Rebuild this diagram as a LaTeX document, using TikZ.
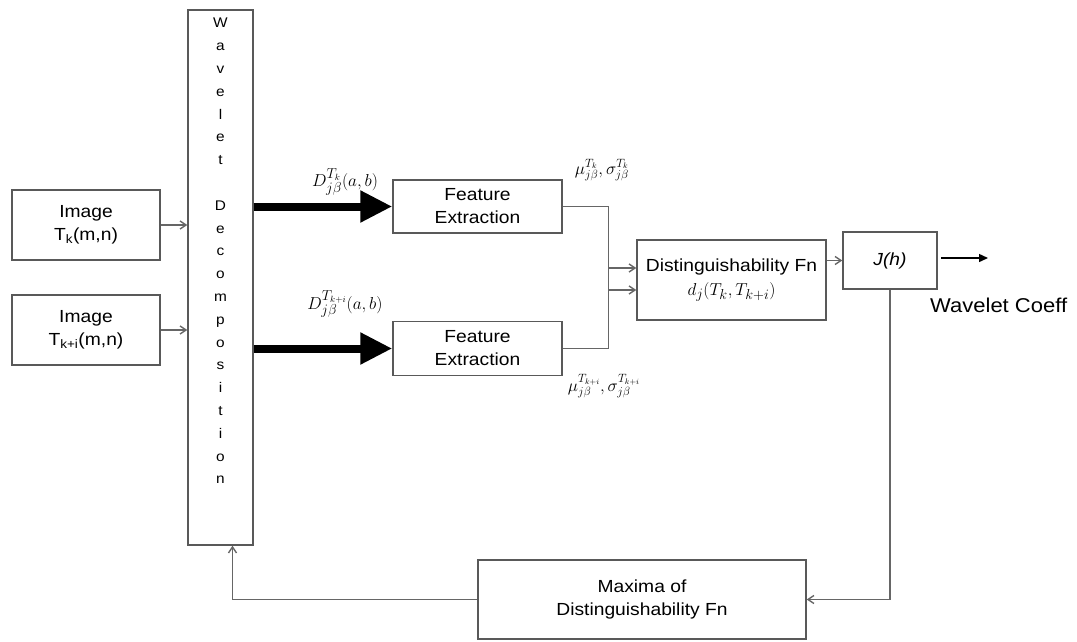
\documentclass[tikz,border=0pt]{standalone}
\usepackage{fontspec}
\setmainfont{Liberation Sans}[FakeStretch=1.1]
\usetikzlibrary{arrows.meta,positioning}
\begin{document}
\begin{tikzpicture}[x=1pt,y=-1pt,
  box/.style={draw=black!65,line width=1.4pt,fill=white,inner sep=0pt,font=\fontsize{17.5}{23}\selectfont,align=center},
  conn/.style={draw=black!60,line width=1.4pt,-{Straight Barb[length=6pt,width=8pt]}},
  thick arrow/.style={draw=black,line width=8pt,-{Triangle[length=32pt,width=30pt]}},
  lbl/.style={font=\fontsize{19}{21}\selectfont}]
\useasboundingbox (0,0) rectangle (1077,641);
% boxes
\node[box,minimum width=148pt,minimum height=70pt] (img1) at (86,225) {Image\\T\textsubscript{k}(m,n)};
\node[box,minimum width=148pt,minimum height=70pt] (img2) at (86,330) {Image\\T\textsubscript{k+i}(m,n)};
\node[box,minimum width=65pt,minimum height=535pt] (wd) at (220.5,277.5) {};
\node[font=\fontsize{14}{22.8}\selectfont,align=center,anchor=north,inner sep=0pt] (wdt) at (220.5,18)
  {W\\a\\v\\e\\l\\e\\t\\[22.8pt]D\\e\\c\\o\\m\\p\\o\\s\\i\\t\\i\\o\\n};
\node[box,minimum width=169pt,minimum height=53pt] (fe1) at (477.5,206.5) {Feature\\Extraction};
\node[box,minimum width=169pt,minimum height=54pt] (fe2) at (477.5,348.5) {Feature\\Extraction};
\node[box,minimum width=189pt,minimum height=80pt] (dist) at (731.5,280)
  {Distinguishability Fn\\[1pt]{\fontsize{19}{21}\selectfont$d_{j}(T_{k},T_{k+i})$}};
\node[box,minimum width=94pt,minimum height=57pt] (jh) at (890,260.5) {\textit{J(h)}};
\node[box,minimum width=328pt,minimum height=79pt] (max) at (642,599.5) {Maxima of\\Distinguishability Fn};
% labels
\node[lbl] (ld1) at (345,182) {$D_{j\beta}^{T_k}(a,b)$};
\node[lbl] (ld2) at (345,304) {$D_{j\beta}^{T_{k+i}}(a,b)$};
\node[lbl,font=\fontsize{17}{19}\selectfont] (lm1) at (602,170) {$\mu_{j\beta}^{T_k},\sigma_{j\beta}^{T_k}$};
\node[lbl,font=\fontsize{17}{19}\selectfont] (lm2) at (604,386) {$\mu_{j\beta}^{T_{k+i}},\sigma_{j\beta}^{T_{k+i}}$};
\node[font=\fontsize{20}{22}\selectfont,anchor=west,inner sep=0pt] (wc) at (930,305) {Wavelet Coeff};
% connectors
\draw[conn] (img1.east) -- (img1.east -| wd.west);
\draw[conn] (img2.east) -- (img2.east -| wd.west);
\draw[thick arrow] (fe1.west -| wd.east) -- (fe1.west);
\draw[thick arrow] (fe2.west -| wd.east) -- (fe2.west);
\draw[conn] (fe1.east) -- ++(46,0) |- ([yshift=-10pt]dist.west);
\draw[conn] (fe2.east) -- ++(46,0) |- ([yshift=12pt]dist.west);
\draw[conn] (jh.west -| dist.east) -- (jh.west);
\coordinate (o1) at (941,258);
\coordinate (o2) at (988,258);
\draw[black,line width=1.4pt,-{Triangle[length=9pt,width=8pt]}] (o1) -- (o2);
\draw[conn] (jh.south) |- (max.east);
\draw[conn] (max.west) -| ([xshift=12pt]wd.south);
\end{tikzpicture}
\end{document}
